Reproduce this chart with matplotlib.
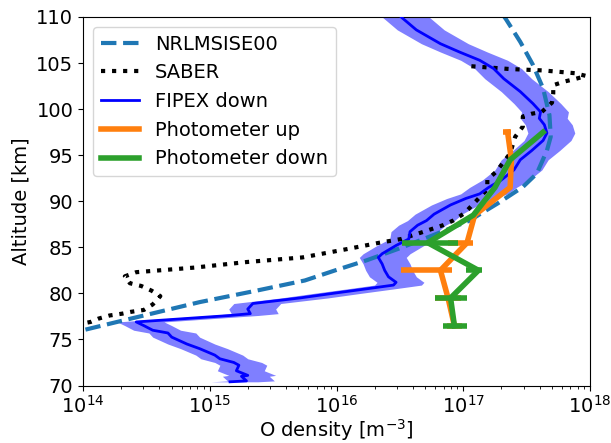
import numpy as np
import matplotlib
matplotlib.use("Agg")
import matplotlib.pyplot as plt

# ---------------- data (log10 of O density in m^-3, altitude in km) ----------------
nrl_alt = [75.5, 76.0, 77.07, 79.05, 80.3, 81.4, 82.5, 83.6, 84.9, 86.3, 87.9, 88.5,
           89.75, 91.55, 93.0, 95.5, 97.0, 99.35, 102.25, 104.8, 107.3, 109.7, 110.5]
nrl_log = [13.85, 14.0, 14.32, 14.92, 15.37, 15.75, 15.99, 16.24, 16.50, 16.76, 17.05, 17.12,
           17.27, 17.47, 17.58, 17.66, 17.69, 17.68, 17.63, 17.55, 17.45, 17.34, 17.30]

saber_alt = [76.6, 76.9, 77.25, 77.6, 77.8, 78.0, 78.2, 78.8, 79.7, 80.3, 80.8, 81.1, 81.85,
             82.3, 82.8, 83.4, 83.9, 84.8, 85.5, 85.9, 86.7, 87.4, 87.9, 88.7, 90.0, 91.3,
             92.35, 93.2, 95.2, 97.0, 98.1, 99.2, 99.5, 99.7, 100.7, 101.7, 102.6, 103.0,
             103.3, 103.6, 103.9, 104.2, 104.35, 104.7]
saber_log = [13.95, 14.06, 14.12, 14.21, 14.31, 14.38, 14.48, 14.55, 14.61, 14.54, 14.46, 14.37,
             14.33, 14.42, 14.88, 15.29, 15.73, 16.08, 16.34, 16.51, 16.69, 16.84, 16.92, 17.01,
             17.10, 17.19, 17.19, 17.26, 17.37, 17.41, 17.47, 17.47, 17.54, 17.62, 17.70, 17.71,
             17.71, 17.80, 17.89, 17.97, 17.88, 17.63, 17.37, 17.02]

fipex_alt = [70.4, 70.5, 71.0, 71.1, 71.6, 72.2, 72.5, 72.9, 73.3, 74.0, 74.5, 75.25, 75.7,
             76.0, 76.5, 76.9, 77.6, 77.8, 78.3, 78.9, 79.5, 80.0, 80.5, 80.9, 81.2, 81.8,
             82.5, 83.2, 83.9, 84.3, 85.2, 85.9, 86.7, 87.4, 87.9, 88.6, 89.6, 90.3, 90.8,
             91.5, 92.3, 93.4, 94.5, 95.5, 96.6, 97.4, 98.3, 99.0, 99.7, 100.6, 101.9, 103.3,
             104.4, 105.3, 106.2, 107.1, 108.6, 110.0, 110.5]
fipex_log = [15.16, 15.29, 15.25, 15.30, 15.21, 15.23, 15.19, 15.08, 15.04, 14.92, 14.82, 14.70,
             14.67, 14.55, 14.48, 14.42, 15.16, 15.32, 15.30, 15.34, 15.71, 15.97, 16.24, 16.45,
             16.47, 16.41, 16.38, 16.36, 16.33, 16.36, 16.47, 16.57, 16.58, 16.64, 16.71, 16.77,
             16.90, 17.02, 17.13, 17.20, 17.30, 17.40, 17.45, 17.54, 17.63, 17.66, 17.64, 17.60,
             17.61, 17.55, 17.45, 17.32, 17.24, 17.13, 16.97, 16.82, 16.63, 16.51, 16.48]
fipex_band_lo = -0.15   # log10 offsets of the uncertainty band
fipex_band_hi = 0.22

phot_alt = [76.5, 79.5, 82.5, 85.5, 88.5, 91.5, 94.5, 97.5]
up_log = [16.93, 16.88, 16.82, 17.03, 17.09, 17.37, 17.38, 17.35]
up_lo_log = [16.87, 16.78, 16.51, 16.88, 17.09, 17.37, 17.38, 17.31]
up_hi_log = [16.99, 16.98, 16.91, 17.08, 17.09, 17.37, 17.38, 17.38]
down_log = [16.93, 16.90, 17.12, 16.72, 17.08, 17.25, 17.37, 17.63]
down_lo_log = [16.84, 16.78, 17.02, 16.52, 17.08, 17.25, 17.37, 17.63]
down_hi_log = [17.03, 17.03, 17.15, 16.96, 17.08, 17.25, 17.37, 17.63]

# ---------------- plot ----------------
plt.rcParams['font.family'] = ['DejaVu Sans']
plt.rcParams['font.size'] = 14

fig = plt.figure(figsize=(6.11, 4.43), dpi=100)
ax = fig.add_axes([83/611, 1 - 385.5/443, (590 - 83)/611, (385.5 - 17)/443])

p = lambda a: np.power(10.0, np.asarray(a))

fx = p(fipex_log)
ax.fill_betweenx(fipex_alt, fx * 10**fipex_band_lo, fx * 10**fipex_band_hi,
                 color='b', alpha=0.5, linewidth=0, zorder=1)

ax.plot(p(nrl_log), nrl_alt, '--', color='tab:blue', lw=3, label='NRLMSISE00', zorder=2)
ax.plot(p(saber_log), saber_alt, ':', color='k', lw=3, label='SABER', zorder=2)
ax.plot(fx, fipex_alt, '-', color='b', lw=2, label='FIPEX down', zorder=3)

up = p(up_log)
ax.errorbar(up, phot_alt, xerr=[up - p(up_lo_log), p(up_hi_log) - up],
            color='tab:orange', lw=4, elinewidth=4, capsize=0, zorder=4)
ax.plot([], [], color='tab:orange', lw=4, label='Photometer up')
dn = p(down_log)
ax.errorbar(dn, phot_alt, xerr=[dn - p(down_lo_log), p(down_hi_log) - dn],
            color='tab:green', lw=4, elinewidth=4, capsize=0, zorder=5)
ax.plot([], [], color='tab:green', lw=4, label='Photometer down')

ax.set_xscale('log')
ax.set_xlim(1e14, 1e18)
ax.set_ylim(70, 110)
ax.set_yticks(np.arange(70, 111, 5))
ax.set_xlabel('O density [m$^{-3}$]', labelpad=0)
ax.set_ylabel('Altitude [km]')
ax.legend(loc='upper left', fontsize=14)

fig.savefig('out.png', dpi=100)
